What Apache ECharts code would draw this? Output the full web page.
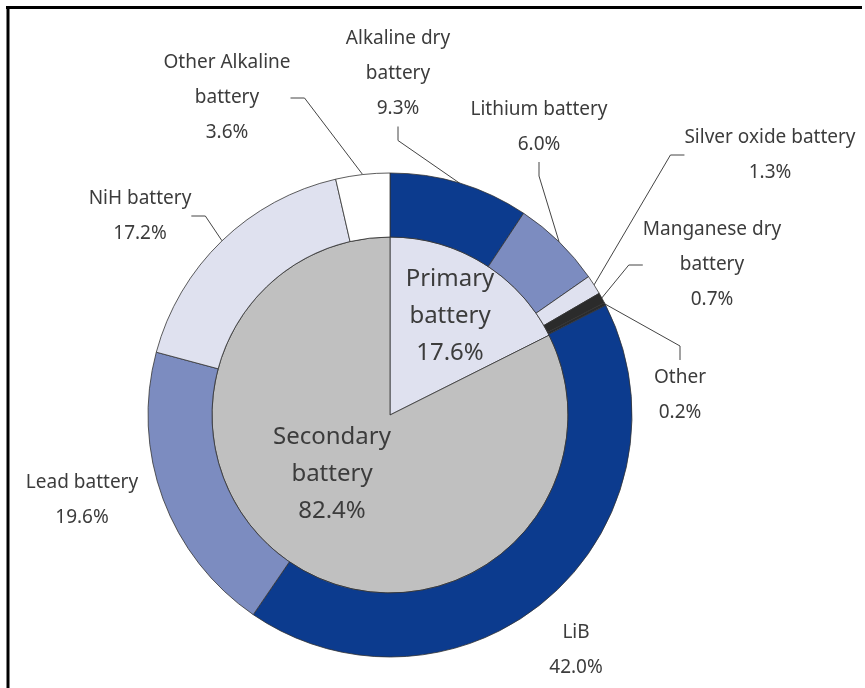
<!DOCTYPE html>
<html>
<head>
<meta charset="utf-8">
<script src="https://cdn.jsdelivr.net/npm/echarts@6/dist/echarts.min.js"></script>
<style>
  html, body { margin: 0; padding: 0; background: #fff; }
  #main { width: 865px; height: 688px; }
</style>
</head>
<body>
<div id="main"></div>
<script>
// inner pie: battery type
var typeNames = ['Primary\nbattery', 'Secondary\nbattery']
var typeValues = [17.6, 82.4]
// outer ring: battery kind
var kindNames = ['Alkaline dry\nbattery', 'Lithium battery', 'Silver oxide battery', 'Manganese dry\nbattery', 'Other',
  'LiB', 'Lead battery', 'NiH battery', 'Other Alkaline\nbattery']
var kindValues = [9.3, 6.0, 1.3, 0.7, 0.2, 42.0, 19.6, 17.2, 3.6]

var typeColors = ['#dfe1ef', '#c0c0c0']
var kindColors = ['#0c3b8e', '#7c8cc0', '#dfe1ef', '#2b2b2b', '#2b2b2b', '#0c3b8e', '#7c8cc0', '#dfe1ef', '#ffffff']
// LiB and Lead battery labels have no leader line
var kindLine = [true, true, true, true, true, false, false, true, true]

// label centres (layout only)
var typeLabelPos = [[450, 316], [332, 474]]
var kindLabelPos = [[398, 74], [539, 127], [770, 155], [712, 265], [680, 395], [576, 650], [82, 500], [140, 216], [227, 98]]

var myChart = echarts.init(document.getElementById('main'))
var txt = '#3c3c3c'

var option = {
  animation: false,
  backgroundColor: '#fff',
  graphic: [
    { type: 'line', shape: { x1: 6, y1: 7.5, x2: 862, y2: 7.5 }, style: { stroke: '#000', lineWidth: 3 } },
    { type: 'line', shape: { x1: 8, y1: 6, x2: 8, y2: 688 }, style: { stroke: '#000', lineWidth: 3 } }
  ],
  series: [
    {
      type: 'pie',
      center: [390, 415],
      radius: [0, 178],
      startAngle: 90,
      clockwise: true,
      data: typeNames.map(function (n, i) {
        return { name: n, value: typeValues[i], itemStyle: { color: typeColors[i] } }
      }),
      itemStyle: { borderColor: '#333', borderWidth: 0.8 },
      label: {
        show: true,
        position: 'inside',
        color: txt,
        fontFamily: 'Noto Sans',
        fontSize: 24,
        lineHeight: 37,
        formatter: function (p) { return p.name + '\n' + p.value.toFixed(1) + '%' }
      },
      labelLine: { show: false },
      labelLayout: function (p) {
        var pos = typeLabelPos[p.dataIndex]
        return { x: pos[0], y: pos[1], align: 'center', verticalAlign: 'middle' }
      },
      emphasis: { disabled: true }
    },
    {
      type: 'pie',
      center: [390, 415],
      radius: [178, 242],
      startAngle: 90,
      clockwise: true,
      data: kindNames.map(function (n, i) {
        return {
          name: n,
          value: kindValues[i],
          itemStyle: { color: kindColors[i] },
          labelLine: { show: kindLine[i] }
        }
      }),
      itemStyle: { borderColor: '#333', borderWidth: 0.8 },
      label: {
        show: true,
        position: 'outside',
        color: txt,
        fontFamily: 'Noto Sans',
        fontSize: 19,
        lineHeight: 35,
        formatter: function (p) { return p.name + '\n' + p.value.toFixed(1) + '%' }
      },
      labelLine: {
        show: true,
        length: 14,
        length2: 14,
        lineStyle: { color: '#444', width: 1 }
      },
      labelLayout: function (p) {
        var pos = kindLabelPos[p.dataIndex]
        return { x: pos[0], y: pos[1], align: 'center', verticalAlign: 'middle' }
      },
      emphasis: { disabled: true }
    }
  ]
}

myChart.setOption(option)
</script>
</body>
</html>
